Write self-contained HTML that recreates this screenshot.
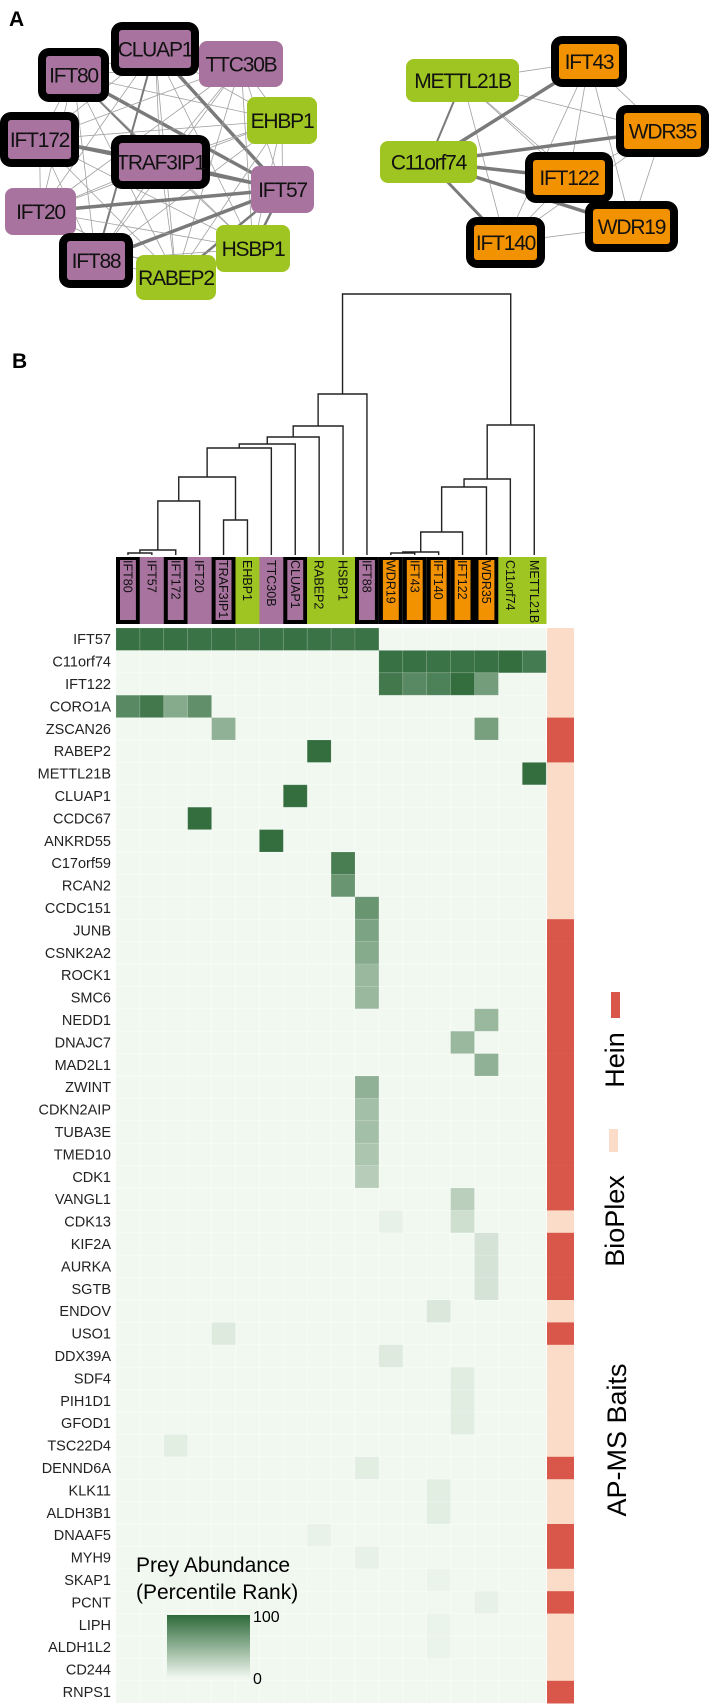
<!DOCTYPE html>
<html><head><meta charset="utf-8"><style>
html,body{margin:0;padding:0;background:#fff;}
svg{display:block;font-family:"Liberation Sans",sans-serif;}
</style></head><body>
<svg id="fig" width="709" height="1705" viewBox="0 0 709 1705" xmlns="http://www.w3.org/2000/svg">
<defs>
<linearGradient id="lg" x1="0" y1="1" x2="0" y2="0"><stop offset="0" stop-color="#f1f8f0"/><stop offset="1" stop-color="#2e6a3a"/></linearGradient>
</defs>
<text x="9" y="26" font-size="21" font-weight="bold">A</text>
<text x="12" y="368" font-size="21" font-weight="bold">B</text>
<g id="edges"></g>
<g id="nodes"></g>
<g id="dendro"></g>
<g id="collabels"></g>
<g id="heat"></g>
<g id="rowlabels"></g>
<g id="side"></g>
<g>
<rect x="611" y="992" width="9" height="26" fill="#d9574a"/>
<text transform="translate(624,1060) rotate(-90)" text-anchor="middle" font-size="27">Hein</text>
<rect x="609" y="1129" width="9" height="23" fill="#fbdcc9"/>
<text transform="translate(624,1221) rotate(-90)" text-anchor="middle" font-size="27">BioPlex</text>
<text transform="translate(626,1440) rotate(-90)" text-anchor="middle" font-size="27">AP-MS Baits</text>
</g>
<g>
<text x="136" y="1572" font-size="21">Prey Abundance</text>
<text x="136" y="1599" font-size="21">(Percentile Rank)</text>
<rect x="167" y="1615" width="83" height="63" fill="url(#lg)"/>
<text x="253" y="1622" font-size="16">100</text>
<text x="253" y="1684" font-size="16">0</text>
</g>
</svg>
<script>
const NS="http://www.w3.org/2000/svg";
const columns=["IFT80","IFT57","IFT172","IFT20","TRAF3IP1","EHBP1","TTC30B","CLUAP1","RABEP2","HSBP1","IFT88","WDR19","IFT43","IFT140","IFT122","WDR35","C11orf74","METTL21B"];
const columnGroup=["p","p","p","p","p","g","p","p","g","g","p","o","o","o","o","o","g","g"];
const columnBordered=[1,0,1,0,1,0,0,1,0,0,1,1,1,1,1,1,0,0];
const rows=["IFT57","C11orf74","IFT122","CORO1A","ZSCAN26","RABEP2","METTL21B","CLUAP1","CCDC67","ANKRD55","C17orf59","RCAN2","CCDC151","JUNB","CSNK2A2","ROCK1","SMC6","NEDD1","DNAJC7","MAD2L1","ZWINT","CDKN2AIP","TUBA3E","TMED10","CDK1","VANGL1","CDK13","KIF2A","AURKA","SGTB","ENDOV","USO1","DDX39A","SDF4","PIH1D1","GFOD1","TSC22D4","DENND6A","KLK11","ALDH3B1","DNAAF5","MYH9","SKAP1","PCNT","LIPH","ALDH1L2","CD244","RNPS1"];
const rowSource=["B","B","B","B","H","H","B","B","B","B","B","B","B","H","H","H","H","H","H","H","H","H","H","H","H","H","B","H","H","H","B","H","B","B","B","B","B","H","B","B","H","H","B","H","B","B","B","H"];
// nonzero cells: [row, col, percentile]
const cellRow=[0,0,0,0,0,0,0,0,0,0,0, 1,1,1,1,1,1,1, 2,2,2,2,2, 3,3,3,3, 4,4, 5,6,7,8,9,10,11,12,13,14,15,16,17,18,19,20,21,22,23,24,25,26,26,27,28,29,30,31,32,33,34,35,36,37,38,39,40,41,42,42,43,44,45];
const cellCol=[0,1,2,3,4,5,6,7,8,9,10, 11,12,13,14,15,16,17, 11,12,13,14,15, 0,1,2,3, 4,15, 8,17,7,3,6,9,9,10,10,10,10,10,15,14,15,10,10,10,10,10,14,11,14,15,15,15,13,4,11,14,14,14,2,10,13,13,8,10,13,2,15,13,13];
const cellVal=[95,95,95,94,95,92,94,95,94,92,94, 95,95,94,94,95,97,88, 90,78,84,97,64, 78,90,55,74, 50,62, 97,97,97,97,97,86,70,70,60,55,45,45,45,45,50,50,40,40,36,30,28,5,18,15,15,15,12,10,10,8,8,8,7,7,7,7,4,5,3,2,5,3,3];
// dendrogram merges: leaves 0..17, merge k -> node id 18+k
const dLeft =[0, 18, 4, 19, 21, 22, 23, 24, 25, 26, 11, 28, 29, 30, 31, 32, 27];
const dRight=[1, 2, 5, 3, 20, 6, 7, 8, 9, 10, 12, 13, 14, 15, 16, 17, 33];
const dHeight=[2, 5, 35, 54, 78, 107, 111, 118, 129, 161, 2, 3, 23, 68, 76, 130, 261];
(function(){
const X0=116,CW=23.9,Y0=628,RH=22.4,LEAFY=555;
const xAt=c=>X0+CW*c;
const yAt=r=>Y0+RH*r;
const colFill={p:"#a8739f",g:"#9ec521",o:"#f39200"};
function el(tag,attrs,parent){const e=document.createElementNS(NS,tag);for(const k in attrs)e.setAttribute(k,attrs[k]);parent.appendChild(e);return e;}
function shade(v){const a=[241,248,240],b=[46,106,58];const t=Math.max(0,Math.min(1,v/100));return "rgb("+a.map((x,i)=>Math.round(x+(b[i]-x)*t)).join(",")+")";}
const heat=document.getElementById('heat');
const bg=el('rect',{x:X0,y:Y0,width:CW*columns.length,height:RH*rows.length,fill:"#f1f8f0"},heat);


for(let r=0;r<rows.length;r++)for(let c=0;c<columns.length;c++){
 const g=el('rect',{x:xAt(c),y:yAt(r),width:CW,height:RH,fill:"none",stroke:"#ffffff","stroke-opacity":"0.35","stroke-width":"0.8"},heat);
 
 
}
for(let i=0;i<cellVal.length;i++){
 const rr=el('rect',{x:xAt(cellCol[i]),y:yAt(cellRow[i]),width:CW,height:RH,fill:shade(cellVal[i]),stroke:"#ffffff","stroke-opacity":"0.15","stroke-width":"0.8"},heat);
 
 
}
const rl=document.getElementById('rowlabels');
rows.forEach((n,r)=>{const t=el('text',{x:111,y:yAt(r)+RH/2+5,"text-anchor":"end","font-size":"14.5",fill:"#222"},rl);t.textContent=n;
 
 });
const sd=document.getElementById('side');
rowSource.forEach((s,r)=>{const b=el('rect',{x:547,y:yAt(r),width:27,height:RH+0.3,fill:s==="H"?"#d9574a":"#fbdcc9"},sd);
 
 });
const cl=document.getElementById('collabels');
columns.forEach((n,c)=>{
 const x=xAt(c);
 if(columnBordered[c]){
  const b=el('rect',{x:x,y:557,width:CW,height:67,fill:"#000"},cl);
  
  
  const f=el('rect',{x:x+4,y:560,width:CW-8,height:60,fill:colFill[columnGroup[c]]},cl);
  
  
 } else {
  const f=el('rect',{x:x,y:557,width:CW+0.3,height:67,fill:colFill[columnGroup[c]]},cl);
  
  
 }
 const t=el('text',{transform:"translate("+(x+CW/2-4.5)+",560) rotate(90)","font-size":"12.5",fill:"#111"},cl);
 t.textContent=n;
 
 
});
const dg=document.getElementById('dendro');
const nx=[],ny=[];
for(let i=0;i<columns.length;i++){nx[i]=xAt(i)+CW/2;ny[i]=LEAFY;}
for(let k=0;k<dLeft.length;k++){
 const a=dLeft[k],b=dRight[k],y=LEAFY-dHeight[k];
 const p=el('path',{d:"M"+nx[a]+","+ny[a]+"V"+y+"H"+nx[b]+"V"+ny[b],fill:"none",stroke:"#222","stroke-width":"1.4"},dg);
 
 
 nx[18+k]=(nx[a]+nx[b])/2;ny[18+k]=y;
}
const nodes={
 IFT80:[38,48,109,102,"p",1],CLUAP1:[111,22,199,76,"p",1],TTC30B:[199,41,283,87,"p",0],EHBP1:[247,97,317,144,"g",0],
 IFT172:[0,112,79,167,"p",1],TRAF3IP1:[111,135,210,189,"p",1],IFT57:[251,166,314,213,"p",0],IFT20:[5,188,76,235,"p",0],
 IFT88:[59,233,133,288,"p",1],HSBP1:[216,225,290,272,"g",0],RABEP2:[136,255,216,300,"g",0],
 METTL21B:[406,59,519,102,"g",0],IFT43:[551,36,627,87,"o",1],WDR35:[616,105,709,157,"o",1],C11orf74:[380,141,477,183,"g",0],
 IFT122:[525,152,613,203,"o",1],WDR19:[585,201,678,252,"o",1],IFT140:[466,217,545,268,"o",1]};
const ctr=n=>{const b=nodes[n];return[(b[0]+b[2])/2,(b[1]+b[3])/2];};
const left=["IFT80","CLUAP1","TTC30B","EHBP1","IFT172","TRAF3IP1","IFT57","IFT20","IFT88","HSBP1","RABEP2"];
const right=["METTL21B","IFT43","WDR35","C11orf74","IFT122","WDR19","IFT140"];
const thick={"IFT57|CLUAP1":3.5,"IFT57|IFT80":3.5,"IFT57|TRAF3IP1":3.5,"IFT57|IFT20":3.5,"IFT57|IFT88":3.5,"IFT57|IFT172":2.5,"IFT172|TRAF3IP1":3.5,"IFT57|RABEP2":2.5,"IFT57|HSBP1":2.5,"CLUAP1|IFT88":2,"IFT80|TRAF3IP1":2,
 "C11orf74|IFT43":3.5,"C11orf74|WDR35":3.5,"C11orf74|IFT122":3.5,"C11orf74|WDR19":3.5,"C11orf74|IFT140":3,"METTL21B|C11orf74":2,"IFT122|WDR19":2};
const eg=document.getElementById('edges');
function edges(list){for(let i=0;i<list.length;i++)for(let j=i+1;j<list.length;j++){
 const a=list[i],b=list[j];const w=thick[a+"|"+b]||thick[b+"|"+a]||0.8;
 const p=ctr(a),q=ctr(b);
 const l=el('line',{x1:p[0],y1:p[1],x2:q[0],y2:q[1],stroke:w>1?"#7a7a7a":"#a0a0a0","stroke-width":w},eg);
 
 }}
edges(left);edges(right);
const ng=document.getElementById('nodes');
for(const n in nodes){
 const [x1,y1,x2,y2,g,bd]=nodes[n];
 if(bd){
  const o=el('rect',{x:x1,y:y1,width:x2-x1,height:y2-y1,rx:11,fill:"#000"},ng);
  
  
  const i=el('rect',{x:x1+8,y:y1+8,width:x2-x1-16,height:y2-y1-16,rx:3,fill:colFill[g]},ng);
  
  
 } else {
  const i=el('rect',{x:x1,y:y1,width:x2-x1,height:y2-y1,rx:8,fill:colFill[g]},ng);
  
  
 }
 const t=el('text',{x:(x1+x2)/2,y:(y1+y2)/2+7.5,"text-anchor":"middle","font-size":"21","letter-spacing":"-1.2",fill:"#111"},ng);
 t.textContent=n;
 
 
}
})();
</script>
</body></html>
